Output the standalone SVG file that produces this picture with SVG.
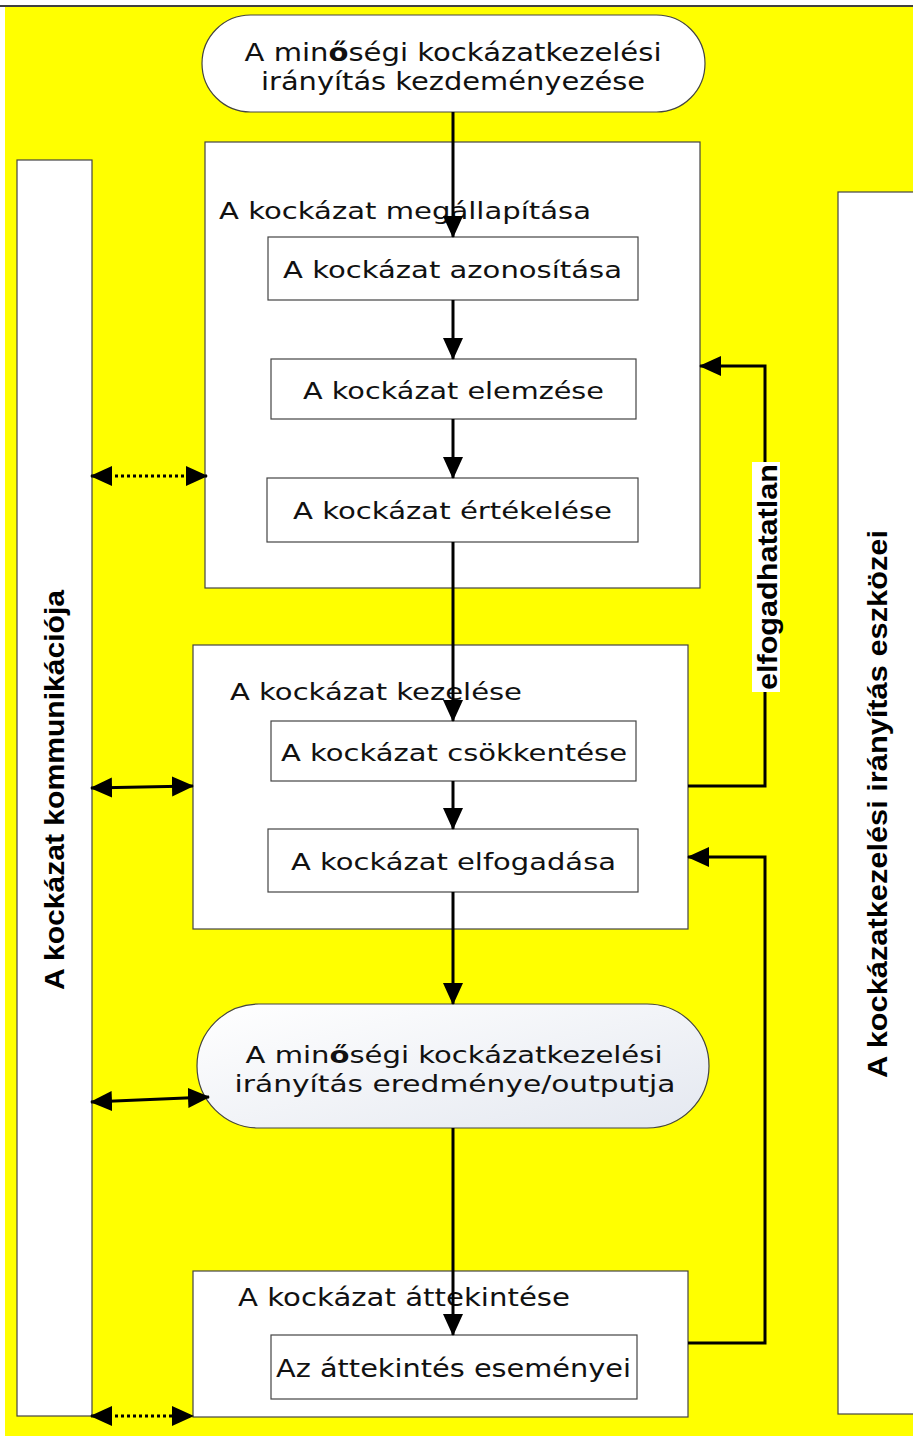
<svg xmlns="http://www.w3.org/2000/svg" width="913" height="1438" viewBox="0 0 913 1438">
<style>
.box{fill:#fff;stroke:#444;stroke-width:1.2}
.t{font-family:"DejaVu Sans","Liberation Sans",sans-serif;font-size:23px;fill:#111}
.c{font-family:"DejaVu Sans","Liberation Sans",sans-serif;font-size:25px;fill:#111}
.s{font-family:"Liberation Sans",Arial,sans-serif;font-weight:bold;font-size:27px;fill:#000}
.ln{fill:none;stroke:#000;stroke-width:3}
.dot{fill:none;stroke:#000;stroke-width:3;stroke-dasharray:3 3}
</style>
<defs>
<marker id="ah" markerUnits="userSpaceOnUse" markerWidth="22" markerHeight="22" viewBox="0 0 22 22" refX="21" refY="11" orient="auto-start-reverse">
<path d="M0,1 L22,11 L0,21 Z" fill="#000"/>
</marker>
<linearGradient id="g" x1="0" y1="0" x2="1" y2="1">
<stop offset="0" stop-color="#ffffff"/>
<stop offset="1" stop-color="#e4e8f0"/>
</linearGradient>
</defs>
<rect x="0" y="0" width="913" height="1438" fill="#fff"/>
<rect x="5" y="7" width="908" height="1429" fill="#ffff00"/>
<line x1="0" y1="6" x2="913" y2="6" stroke="#000" stroke-width="1.5"/>

<g id="side-left">
<rect class="box" x="17" y="160" width="75" height="1256"/>
<text class="s" transform="translate(64,790) rotate(-90)" text-anchor="middle" textLength="400" lengthAdjust="spacingAndGlyphs">A kockázat kommunikációja</text>
</g>
<g id="side-right">
<rect class="box" x="838" y="192" width="80" height="1222"/>
<text class="s" transform="translate(887,804) rotate(-90)" text-anchor="middle" textLength="548" lengthAdjust="spacingAndGlyphs">A kockázatkezelési irányítás eszközei</text>
</g>

<g id="start">
<rect class="box" x="202" y="15" width="503" height="97" rx="48.5"/>
<text class="c" x="453" y="61" text-anchor="middle" textLength="417" lengthAdjust="spacingAndGlyphs">A min<tspan font-weight="bold">ő</tspan>ségi kockázatkezelési</text>
<text class="c" x="453" y="90" text-anchor="middle" textLength="384" lengthAdjust="spacingAndGlyphs">irányítás kezdeményezése</text>
</g>

<g id="assess">
<rect class="box" x="205" y="142" width="495" height="446"/>
<text class="t" x="219" y="219" textLength="372" lengthAdjust="spacingAndGlyphs">A kockázat megállapítása</text>
</g>
<g id="identify">
<rect class="box" x="268" y="237" width="370" height="63"/>
<text class="t" x="283" y="278" textLength="339" lengthAdjust="spacingAndGlyphs">A kockázat azonosítása</text>
</g>
<g id="analyse">
<rect class="box" x="271" y="359" width="365" height="60"/>
<text class="t" x="303" y="399" textLength="301" lengthAdjust="spacingAndGlyphs">A kockázat elemzése</text>
</g>
<g id="evaluate">
<rect class="box" x="267" y="478" width="371" height="64"/>
<text class="t" x="293" y="519" textLength="319" lengthAdjust="spacingAndGlyphs">A kockázat értékelése</text>
</g>

<g id="control">
<rect class="box" x="193" y="645" width="495" height="284"/>
<text class="t" x="230" y="700" textLength="292" lengthAdjust="spacingAndGlyphs">A kockázat kezelése</text>
</g>
<g id="reduce">
<rect class="box" x="271" y="721" width="365" height="60"/>
<text class="t" x="281" y="761" textLength="346" lengthAdjust="spacingAndGlyphs">A kockázat csökkentése</text>
</g>
<g id="accept">
<rect class="box" x="268" y="829" width="370" height="63"/>
<text class="t" x="291" y="870" textLength="325" lengthAdjust="spacingAndGlyphs">A kockázat elfogadása</text>
</g>

<g id="output">
<rect x="197" y="1004" width="512" height="124" rx="62" fill="url(#g)" stroke="#444" stroke-width="1.2"/>
<text class="t" x="454" y="1063" text-anchor="middle" textLength="417" lengthAdjust="spacingAndGlyphs">A min<tspan font-weight="bold">ő</tspan>ségi kockázatkezelési</text>
<text class="t" x="455" y="1092" text-anchor="middle" textLength="441" lengthAdjust="spacingAndGlyphs">irányítás eredménye/outputja</text>
</g>

<g id="review">
<rect class="box" x="193" y="1271" width="495" height="146"/>
<text class="c" x="238" y="1306" textLength="332" lengthAdjust="spacingAndGlyphs">A kockázat áttekintése</text>
</g>
<g id="review-events">
<rect class="box" x="271" y="1335" width="366" height="64"/>
<text class="c" x="276" y="1377" textLength="355" lengthAdjust="spacingAndGlyphs">Az áttekintés eseményei</text>
</g>

<g id="connectors">
<line class="ln" x1="453" y1="112" x2="453" y2="237" marker-end="url(#ah)"/>
<line class="ln" x1="453" y1="300" x2="453" y2="359" marker-end="url(#ah)"/>
<line class="ln" x1="453" y1="419" x2="453" y2="478" marker-end="url(#ah)"/>
<line class="ln" x1="453" y1="542" x2="453" y2="721" marker-end="url(#ah)"/>
<line class="ln" x1="453" y1="781" x2="453" y2="829" marker-end="url(#ah)"/>
<line class="ln" x1="453" y1="892" x2="453" y2="1004" marker-end="url(#ah)"/>
<line class="ln" x1="453" y1="1128" x2="453" y2="1335" marker-end="url(#ah)"/>
<polyline class="ln" points="688,786 765,786 765,366 700,366" marker-end="url(#ah)"/>
<polyline class="ln" points="688,1343 765,1343 765,857 688,857" marker-end="url(#ah)"/>
<line class="dot" x1="91" y1="476" x2="207" y2="476" marker-start="url(#ah)" marker-end="url(#ah)"/>
<line class="ln" x1="91" y1="788" x2="193" y2="786" marker-start="url(#ah)" marker-end="url(#ah)"/>
<line class="ln" x1="91" y1="1102" x2="209" y2="1097" marker-start="url(#ah)" marker-end="url(#ah)"/>
<line class="dot" x1="91" y1="1416" x2="193" y2="1416" marker-start="url(#ah)" marker-end="url(#ah)"/>
<rect x="752" y="462" width="28" height="230" fill="#fff"/>
<text class="s" transform="translate(777,577) rotate(-90)" text-anchor="middle" font-size="27" textLength="226" lengthAdjust="spacingAndGlyphs">elfogadhatatlan</text>
</g>
</svg>
